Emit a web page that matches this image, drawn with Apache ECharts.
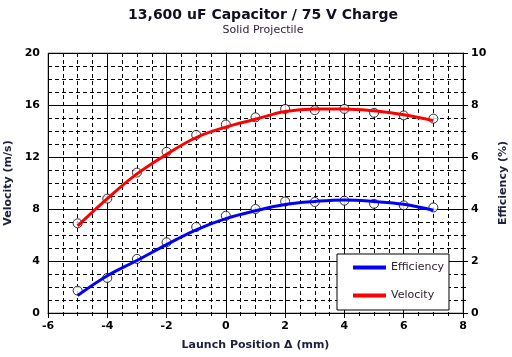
<!DOCTYPE html>
<html>
<head>
<meta charset="utf-8">
<script src="https://cdn.jsdelivr.net/npm/echarts@6/dist/echarts.min.js"></script>
<style>html,body{margin:0;padding:0;background:#fff}#c{width:512px;height:357px}</style>
</head>
<body>
<div id="c"></div>
<script>
var positions = [-5, -4, -3, -2, -1, 0, 1, 2, 3, 4, 5, 6, 7];
var velocityPoints = [6.9, 8.8, 10.8, 12.4, 13.7, 14.5, 15.05, 15.7, 15.6, 15.7, 15.4, 15.2, 14.95];
var efficiencyPoints = [0.86, 1.35, 2.08, 2.72, 3.31, 3.74, 4.0, 4.29, 4.27, 4.32, 4.2, 4.14, 4.06];
var velocityFit = [6.7, 8.8, 10.7, 12.2, 13.5, 14.3, 14.9, 15.5, 15.7, 15.7, 15.55, 15.25, 14.8];
var efficiencyFit = [0.67, 1.43, 2.02, 2.63, 3.2, 3.63, 3.93, 4.17, 4.29, 4.35, 4.29, 4.18, 3.95];
var xTicks = [-6, -4, -2, 0, 2, 4, 6, 8];
var velocityTicks = [0, 4, 8, 12, 16, 20];
var efficiencyTicks = [0, 2, 4, 6, 8, 10];

function pairs(xs, ys) { return xs.map(function (x, i) { return [x, ys[i]]; }); }

var font = 'DejaVu Sans, Verdana, sans-serif';
var chart = echarts.init(document.getElementById('c'), null, {renderer: 'canvas'});
chart.setOption({
  animation: false,
  backgroundColor: '#fff',
  title: {
    text: '13,600 uF Capacitor / 75 V Charge',
    subtext: 'Solid Projectile',
    left: 258, textAlign: 'center', top: 3, itemGap: 3,
    textStyle: {fontFamily: font, fontSize: 14, fontWeight: 'bold', color: '#101020'},
    subtextStyle: {fontFamily: font, fontSize: 11, color: '#302040'}
  },
  grid: {left: 48, right: 49, top: 53, bottom: 44, outerBoundsMode: 'none', containLabel: false,
    show: true, borderColor: '#888', borderWidth: 1, backgroundColor: 'transparent'},
  legend: {
    left: 337, top: 254, orient: 'vertical',
    padding: [8, 5, 9, 16], itemGap: 17,
    backgroundColor: '#fff', borderColor: '#000', borderWidth: 1,
    itemWidth: 33, itemHeight: 4, icon: 'rect',
    textStyle: {fontFamily: font, fontSize: 11, color: '#302030'},
    data: ['Efficiency', 'Velocity'], z: 10
  },
  xAxis: {
    type: 'value', min: xTicks[0], max: xTicks[xTicks.length - 1], interval: 2,
    name: 'Launch Position Δ (mm)', nameLocation: 'middle', nameGap: 27,
    nameTextStyle: {fontFamily: font, fontSize: 11, fontWeight: 'bold', color: '#202040'},
    axisLine: {lineStyle: {color: '#000', width: 1}},
    axisTick: {show: true, length: 5, lineStyle: {color: '#000'}},
    minorTick: {show: true, splitNumber: 4, length: 3, lineStyle: {color: '#000'}},
    axisLabel: {fontFamily: font, fontSize: 11, fontWeight: 'bold', color: '#000', margin: 8},
    splitLine: {show: true, lineStyle: {color: '#000', width: 1}},
    minorSplitLine: {show: true, lineStyle: {color: '#000', width: 1, type: [4, 3]}}
  },
  yAxis: [{
    type: 'value', min: velocityTicks[0], max: velocityTicks[velocityTicks.length - 1], interval: 4,
    name: 'Velocity (m/s)', nameLocation: 'middle', nameGap: 33, nameRotate: 90,
    nameTextStyle: {fontFamily: font, fontSize: 11, fontWeight: 'bold', color: '#202040'},
    axisLine: {show: true, lineStyle: {color: '#000', width: 1}},
    axisTick: {show: true, length: 5, lineStyle: {color: '#000'}},
    minorTick: {show: true, splitNumber: 4, length: 3, lineStyle: {color: '#000'}},
    axisLabel: {fontFamily: font, fontSize: 11, fontWeight: 'bold', color: '#000', margin: 8},
    splitLine: {show: true, lineStyle: {color: '#000', width: 1}},
    minorSplitLine: {show: true, lineStyle: {color: '#000', width: 1, type: [4, 3]}}
  }, {
    type: 'value', min: efficiencyTicks[0], max: efficiencyTicks[efficiencyTicks.length - 1], interval: 2,
    name: 'Efficiency (%)', nameLocation: 'middle', nameGap: 34, nameRotate: 90,
    nameTextStyle: {fontFamily: font, fontSize: 11, fontWeight: 'bold', color: '#202040'},
    axisLine: {show: true, lineStyle: {color: '#000', width: 1}},
    axisTick: {show: true, length: 5, lineStyle: {color: '#000'}},
    minorTick: {show: true, splitNumber: 4, length: 3, lineStyle: {color: '#000'}},
    axisLabel: {fontFamily: font, fontSize: 11, fontWeight: 'bold', color: '#000', margin: 8},
    splitLine: {show: false}
  }],
  series: [{
    name: 'velocity points', type: 'scatter', yAxisIndex: 0,
    data: pairs(positions, velocityPoints),
    symbol: 'circle', symbolSize: 9,
    itemStyle: {color: '#fff', borderColor: '#000', borderWidth: 1}, z: 2
  }, {
    name: 'efficiency points', type: 'scatter', yAxisIndex: 1,
    data: pairs(positions, efficiencyPoints),
    symbol: 'circle', symbolSize: 9,
    itemStyle: {color: '#fff', borderColor: '#000', borderWidth: 1}, z: 2
  }, {
    name: 'Efficiency', type: 'line', yAxisIndex: 1, smooth: 0.4, showSymbol: false,
    data: pairs(positions, efficiencyFit),
    lineStyle: {color: '#0000ff', width: 3}, itemStyle: {color: '#0000ff'}, z: 3
  }, {
    name: 'Velocity', type: 'line', yAxisIndex: 0, smooth: 0.4, showSymbol: false,
    data: pairs(positions, velocityFit),
    lineStyle: {color: '#ff0000', width: 3}, itemStyle: {color: '#ff0000'}, z: 3
  }]
});
</script>
</body>
</html>
